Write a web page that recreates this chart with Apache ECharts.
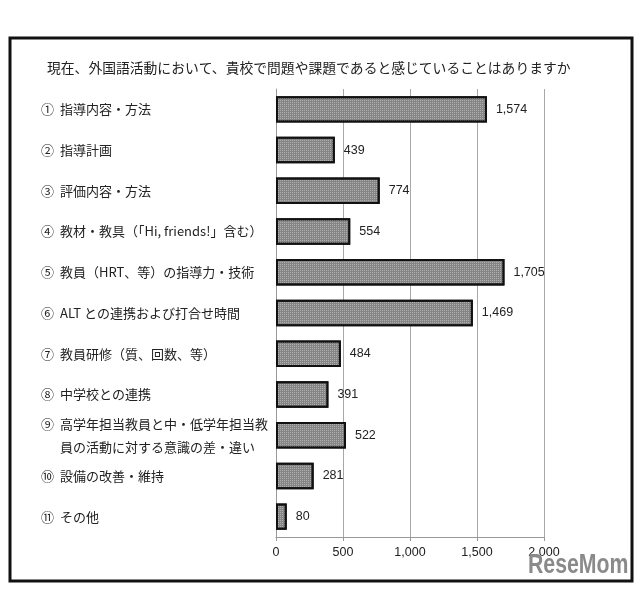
<!DOCTYPE html>
<html><head><meta charset="utf-8">
<script src="https://cdn.jsdelivr.net/npm/echarts@6/dist/echarts.min.js"></script>
<style>html,body{margin:0;padding:0;background:#fff}#c{width:640px;height:589px}</style>
</head><body><div id="c"></div>
<script>
const titleText = '現在、外国語活動において、貴校で問題や課題であると感じていることはありますか';
const nums = ['①','②','③','④','⑤','⑥','⑦','⑧','⑨','⑩','⑪'];
const categories = [
  '指導内容・方法',
  '指導計画',
  '評価内容・方法',
  '教材・教具（「Hi, friends!」含む）',
  '教員（HRT、等）の指導力・技術',
  'ALT との連携および打合せ時間',
  '教員研修（質、回数、等）',
  '中学校との連携',
  '高学年担当教員と中・低学年担当教\n員の活動に対する意識の差・違い',
  '設備の改善・維持',
  'その他'
];
const values = [1574, 439, 774, 554, 1705, 1469, 484, 391, 522, 281, 80];
const xTicks = [0, 500, 1000, 1500, 2000];

const fmt = v => v.toLocaleString('en-US');
const labels = categories.map((c, i) => {
  const lines = c.split('\n');
  return lines.map((l, j) => (j === 0 ? '{n|' + nums[i] + '}' : '{n| }') + '{t|' + l + '}').join('\n');
});

const chart = echarts.init(document.getElementById('c'), null, {renderer: 'canvas'});
chart.setOption({
  animation: false,
  backgroundColor: '#fff',
  title: {
    text: titleText, left: 42, top: 56,
    textStyle: {fontFamily: 'Noto Sans CJK JP', fontSize: 13.8, fontWeight: 'normal', color: '#222'}
  },
  grid: {left: 276, right: 96, top: 89, bottom: 52, containLabel: false},
  xAxis: {
    type: 'value', min: xTicks[0], max: xTicks[xTicks.length - 1], interval: 500,
    axisLine: {show: true, lineStyle: {color: '#999', width: 1}},
    axisTick: {show: true, length: 4, lineStyle: {color: '#999'}},
    axisLabel: {formatter: v => fmt(v), color: '#222', fontFamily: 'Liberation Sans', fontSize: 12.5, margin: 9},
    splitLine: {show: true, lineStyle: {color: '#a8a8a8', width: 1}}
  },
  yAxis: {
    type: 'category', data: labels, inverse: true,
    axisLine: {show: true, lineStyle: {color: '#999'}},
    axisTick: {show: false},
    axisLabel: {
      align: 'left', margin: 235, lineHeight: 23,
      rich: {
        n: {width: 19, fontFamily: 'Noto Sans CJK JP', fontSize: 13, color: '#222', lineHeight: 23},
        t: {fontFamily: 'Noto Sans CJK JP', fontSize: 13, color: '#222', lineHeight: 23}
      }
    }
  },
  series: [{
    type: 'bar', data: values, barCategoryGap: '35%',
    itemStyle: {
      color: '#858585', borderColor: '#111', borderWidth: 2,
      decal: {symbol: 'rect', symbolSize: 1, dashArrayX: [1, 1], dashArrayY: [1, 1], color: 'rgba(255,255,255,0.35)'}
    },
    label: {show: true, position: 'right', distance: 9, formatter: p => fmt(p.value),
      color: '#222', fontFamily: 'Liberation Sans', fontSize: 12.5}
  }],
  graphic: [
    {type: 'rect', shape: {x: 10, y: 38, width: 622, height: 543}, style: {fill: 'none', stroke: '#111', lineWidth: 3}, z: 100},
    {type: 'text', x: 528, y: 565, scaleX: 0.76, style: {x: 0, y: 0, verticalAlign: 'middle', text: 'ReseMom', fill: '#8a8a8a', font: 'bold 28px "Liberation Sans"'}, z: 101}
  ]
});
</script></body></html>
